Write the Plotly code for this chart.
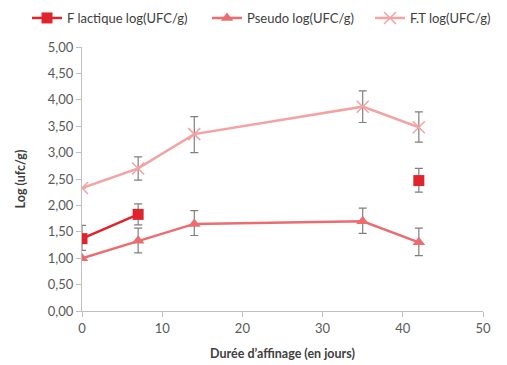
import plotly.graph_objects as go

days = [0, 7, 14, 35, 42]
lact = [1.37, 1.83, None, None, 2.47]
lact_up = [0.25, 0.2, 0, 0, 0.23]
lact_dn = [0.22, 0.2, 0, 0, 0.22]
pseudo = [1.0, 1.33, 1.65, 1.70, 1.30]
pseudo_up = [0.0, 0.24, 0.25, 0.25, 0.27]
pseudo_dn = [0.0, 0.23, 0.22, 0.23, 0.25]
ft = [2.33, 2.70, 3.35, 3.87, 3.48]
ft_up = [0.0, 0.22, 0.33, 0.30, 0.29]
ft_dn = [0.0, 0.22, 0.35, 0.30, 0.28]

names = ["F lactique log(UFC/g)", "Pseudo log(UFC/g)", "F.T log(UFC/g)"]
y_ticks = [0, 0.5, 1, 1.5, 2, 2.5, 3, 3.5, 4, 4.5, 5]
y_labels = ["0,00", "0,50", "1,00", "1,50", "2,00", "2,50", "3,00", "3,50", "4,00", "4,50", "5,00"]

FONT = "Lato, 'Open Sans', sans-serif"
err_col = "#7f7f7f"

def err(up, dn):
    return dict(type="data", symmetric=False, array=up, arrayminus=dn,
                color=err_col, thickness=1.2, width=4)

fig = go.Figure()
fig.add_trace(go.Scatter(x=days, y=lact, name=names[0], mode="lines+markers",
                         connectgaps=False, legend="legend", showlegend=True,
                         line=dict(color="#e0242c", width=2.5),
                         marker=dict(symbol="square", size=11, color="#e0242c"),
                         error_y=err(lact_up, lact_dn)))
fig.add_trace(go.Scatter(x=days, y=pseudo, name=names[1], mode="lines+markers",
                         legend="legend2", showlegend=True,
                         line=dict(color="#ec6c70", width=2.5),
                         marker=dict(symbol="triangle-up", size=11, color="#ec6c70"),
                         error_y=err(pseudo_up, pseudo_dn)))
fig.add_trace(go.Scatter(x=days, y=ft, name=names[2], mode="lines+markers",
                         legend="legend3", showlegend=True,
                         line=dict(color="#f4a3a4", width=2.5),
                         marker=dict(symbol="x-thin", size=12, line=dict(color="#f4a3a4", width=1.5)),
                         error_y=err(ft_up, ft_dn)))

def leg(xpx):
    return dict(orientation="h", xref="container", x=xpx / 507, xanchor="left",
                yref="container", y=1 - 18 / 365, yanchor="middle",
                font=dict(size=13, color="#404040"), itemwidth=30,
                bgcolor="rgba(0,0,0,0)", visible=True)

fig.update_layout(
    width=507, height=365, showlegend=True,
    margin=dict(l=82, r=24, t=47, b=54, autoexpand=False),
    paper_bgcolor="white", plot_bgcolor="white",
    font=dict(family=FONT, size=13, color="#595959"),
    legend=leg(27), legend2=leg(207), legend3=leg(370),
    xaxis=dict(range=[0, 50], tickvals=[0, 10, 20, 30, 40, 50], automargin=False,
               showgrid=False, zeroline=False, showline=True, linecolor="#bfbfbf",
               ticks="outside", ticklen=5, tickcolor="#bfbfbf",
               title=dict(text="<b>Durée d’affinage (en jours)</b>", font=dict(size=12.5, color="#404040"), standoff=14)),
    yaxis=dict(range=[0, 5], tickvals=y_ticks, ticktext=y_labels, automargin=False,
               showgrid=False, zeroline=False, showline=True, linecolor="#bfbfbf",
               ticks="outside", ticklen=5, tickcolor="#bfbfbf",
               title=dict(text="<b>Log (ufc/g)</b>", font=dict(size=12.5, color="#404040"), standoff=19)),
)

fig.write_html("out.html", config={"displayModeBar": False},
               post_script="document.body.style.margin='0';")
